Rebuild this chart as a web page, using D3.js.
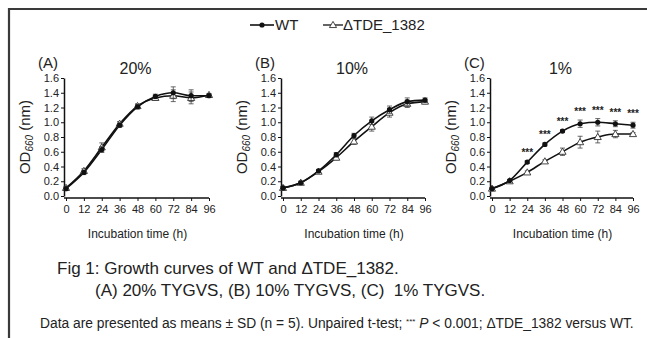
<!DOCTYPE html>
<html>
<head>
<meta charset="utf-8">
<script src="https://cdn.jsdelivr.net/npm/d3@7"></script>
<style>
  body { margin: 0; background: #fff; }
  svg { font-family: "Liberation Sans", Arial, sans-serif; }
</style>
</head>
<body>
<svg id="chart" width="647" height="338"></svg>
<script>
// Data
var hours = [0, 12, 24, 36, 48, 60, 72, 84, 96];
var xTicks = [0, 12, 24, 36, 48, 60, 72, 84, 96];
var yTicks = [0, 0.2, 0.4, 0.6, 0.8, 1.0, 1.2, 1.4, 1.6];

var wt20 = [0.10, 0.32, 0.63, 0.96, 1.21, 1.35, 1.40, 1.36, 1.36];
var wt20sd = [0.02, 0.03, 0.04, 0.03, 0.03, 0.03, 0.08, 0.08, 0.02];
var mut20 = [0.11, 0.34, 0.66, 0.98, 1.22, 1.33, 1.36, 1.33, 1.37];
var mut20sd = [0.02, 0.03, 0.06, 0.03, 0.03, 0.03, 0.08, 0.08, 0.02];

var wt10 = [0.11, 0.18, 0.34, 0.56, 0.82, 1.02, 1.17, 1.28, 1.30];
var wt10sd = [0.02, 0.02, 0.02, 0.03, 0.03, 0.05, 0.05, 0.05, 0.03];
var mut10 = [0.11, 0.18, 0.33, 0.52, 0.74, 0.94, 1.13, 1.25, 1.28];
var mut10sd = [0.02, 0.02, 0.02, 0.03, 0.04, 0.06, 0.06, 0.05, 0.03];

var wt1 = [0.10, 0.21, 0.46, 0.70, 0.88, 0.98, 1.00, 0.98, 0.96];
var wt1sd = [0.01, 0.01, 0.02, 0.02, 0.02, 0.05, 0.05, 0.04, 0.04];
var mut1 = [0.10, 0.20, 0.32, 0.47, 0.60, 0.73, 0.80, 0.84, 0.84];
var mut1sd = [0.01, 0.02, 0.02, 0.02, 0.05, 0.08, 0.08, 0.05, 0.02];
var stars1 = [24, 36, 48, 60, 72, 84, 96];

var panelLetters = ["(A)", "(B)", "(C)"];
var panelTitles = ["20%", "10%", "1%"];
var seriesNames = ["WT", "\u0394TDE_1382"];

var panels = [
  { left: 66, right: 209, wt: wt20, wtSd: wt20sd, mut: mut20, mutSd: mut20sd, stars: [] },
  { left: 283, right: 425, wt: wt10, wtSd: wt10sd, mut: mut10, mutSd: mut10sd, stars: [] },
  { left: 492, right: 633, wt: wt1, wtSd: wt1sd, mut: mut1, mutSd: mut1sd, stars: stars1 }
];

var svg = d3.select("#chart");
var plotTop = 78, plotBottom = 196;

// outer frame (cut off at right and bottom)
svg.append("path")
  .attr("d", "M9,340 L9,9 L650,9")
  .attr("fill", "none")
  .attr("stroke", "#3a3a3a")
  .attr("stroke-width", 2.2);

var y = d3.scaleLinear().domain([0, 1.6]).range([plotBottom, plotTop]);

var triangle = d3.symbol().type(d3.symbolTriangle).size(22);

function drawSeries(g, x, vals, sds, filled) {
  var line = d3.line()
    .x(function(d, i) { return x(hours[i]); })
    .y(function(d) { return y(d); })
    .curve(d3.curveMonotoneX);

  g.append("path")
    .datum(vals)
    .attr("d", line)
    .attr("fill", "none")
    .attr("stroke", "#111")
    .attr("stroke-width", 1.6);

  var eb = g.append("g").attr("stroke", "#444").attr("stroke-width", 0.8);
  vals.forEach(function(v, i) {
    var cx = x(hours[i]);
    eb.append("line").attr("x1", cx).attr("x2", cx)
      .attr("y1", y(v - sds[i])).attr("y2", y(v + sds[i]));
    eb.append("line").attr("x1", cx - 2.5).attr("x2", cx + 2.5)
      .attr("y1", y(v + sds[i])).attr("y2", y(v + sds[i]));
    eb.append("line").attr("x1", cx - 2.5).attr("x2", cx + 2.5)
      .attr("y1", y(v - sds[i])).attr("y2", y(v - sds[i]));
  });

  if (filled) {
    g.selectAll(null).data(vals).enter().append("circle")
      .attr("cx", function(d, i) { return x(hours[i]); })
      .attr("cy", function(d) { return y(d); })
      .attr("r", 2.6)
      .attr("fill", "#111");
  } else {
    g.selectAll(null).data(vals).enter().append("path")
      .attr("d", triangle)
      .attr("transform", function(d, i) { return "translate(" + x(hours[i]) + "," + (y(d) + 0.5) + ")"; })
      .attr("fill", "#fff")
      .attr("stroke", "#333")
      .attr("stroke-width", 0.9);
  }
}

panels.forEach(function(p, k) {
  var x = d3.scaleLinear().domain([0, 96]).range([p.left, p.right]);
  var g = svg.append("g");

  // y axis
  var ya = g.append("g")
    .attr("transform", "translate(" + (p.left - 2) + ",0)")
    .call(d3.axisLeft(y).tickValues(yTicks).tickFormat(d3.format(".1f")).tickSize(3).tickSizeOuter(0));
  ya.select(".domain").attr("stroke", "#111").attr("stroke-width", 1.5);
  ya.selectAll(".tick line").attr("stroke", "#111");
  ya.selectAll("text").attr("font-size", 11).attr("fill", "#222").attr("x", -5);

  // x axis
  var xa = g.append("g")
    .attr("transform", "translate(0," + (plotBottom + 2) + ")")
    .call(d3.axisBottom(x).tickValues(xTicks).tickSize(3).tickSizeOuter(0));
  xa.select(".domain").attr("stroke", "#111").attr("stroke-width", 1.5)
    .attr("d", "M" + (p.left - 2) + ",0H" + p.right);
  xa.selectAll(".tick line").attr("stroke", "#111");
  xa.selectAll("text").attr("font-size", 11).attr("fill", "#222").attr("y", 7);

  g.append("text")
    .attr("x", (p.left + p.right) / 2)
    .attr("y", 238)
    .attr("text-anchor", "middle")
    .attr("font-size", 12)
    .attr("fill", "#222")
    .text("Incubation time (h)");

  // y label OD660 (nm)
  var yl = g.append("text")
    .attr("transform", "translate(" + (p.left - 36) + "," + ((plotTop + plotBottom) / 2) + ") rotate(-90)")
    .attr("text-anchor", "middle")
    .attr("font-size", 15)
    .attr("fill", "#222");
  yl.append("tspan").text("OD");
  yl.append("tspan").attr("font-size", 10).attr("font-style", "italic").attr("dy", 3).text("660");
  yl.append("tspan").attr("dy", -3).text(" (nm)");

  g.append("text")
    .attr("x", p.left - 28)
    .attr("y", 68)
    .attr("font-size", 15)
    .attr("fill", "#222")
    .text(panelLetters[k]);

  g.append("text")
    .attr("x", (p.left + p.right) / 2 - 2)
    .attr("y", 74)
    .attr("text-anchor", "middle")
    .attr("font-size", 16)
    .attr("fill", "#222")
    .text(panelTitles[k]);

  drawSeries(g, x, p.mut, p.mutSd, false);
  drawSeries(g, x, p.wt, p.wtSd, true);

  p.stars.forEach(function(h) {
    var i = hours.indexOf(h);
    g.append("text")
      .attr("x", x(h))
      .attr("y", y(p.wt[i] + p.wtSd[i]) - 5)
      .attr("text-anchor", "middle")
      .attr("font-size", 10)
      .attr("font-weight", "bold")
      .attr("fill", "#222")
      .text("***");
  });
});

// legend
var lg = svg.append("g").attr("transform", "translate(250,25)");
lg.append("line").attr("x1", 0).attr("x2", 24).attr("stroke", "#111").attr("stroke-width", 1.6);
lg.append("circle").attr("cx", 12).attr("r", 2.6).attr("fill", "#111");
lg.append("text").attr("x", 25).attr("y", 5).attr("font-size", 15).attr("fill", "#222").text(seriesNames[0]);
lg.append("line").attr("x1", 73).attr("x2", 93).attr("stroke", "#111").attr("stroke-width", 1.3);
lg.append("path").attr("d", triangle).attr("transform", "translate(83,0.5)")
  .attr("fill", "#fff").attr("stroke", "#333").attr("stroke-width", 0.9);
lg.append("text").attr("x", 93).attr("y", 5).attr("font-size", 15).attr("fill", "#222").text(seriesNames[1]);

// caption
svg.append("text").attr("x", 57).attr("y", 274).attr("font-size", 17).attr("fill", "#222")
  .text("Fig 1: Growth curves of WT and \u0394TDE_1382.");
svg.append("text").attr("x", 95).attr("y", 296).attr("font-size", 17).attr("fill", "#222")
  .text("(A) 20% TYGVS, (B) 10% TYGVS, (C)\u00a0 1% TYGVS.");

var foot = svg.append("text").attr("x", 40).attr("y", 328).attr("font-size", 13.8).attr("fill", "#222");
foot.append("tspan").text("Data are presented as means \u00b1 SD (n = 5). Unpaired t-test; ");
foot.append("tspan").attr("font-size", 8).attr("dy", -4).text("***");
foot.append("tspan").attr("dy", 4).attr("font-style", "italic").text(" P");
foot.append("tspan").text(" < 0.001; \u0394TDE_1382 versus WT.");
</script>
</body>
</html>
